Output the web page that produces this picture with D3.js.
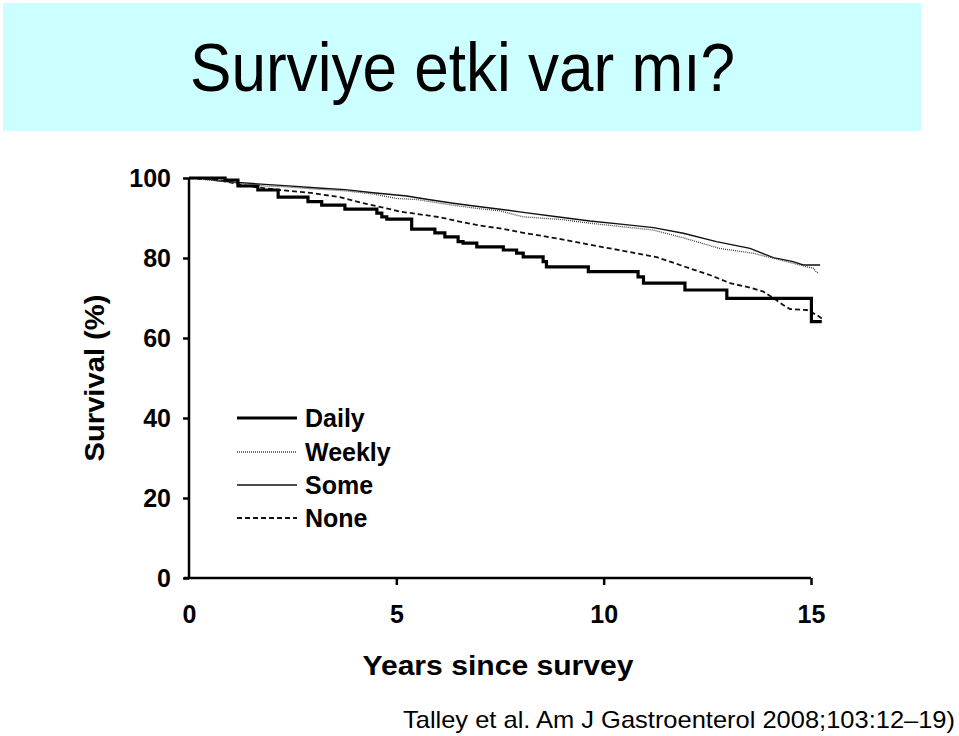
<!DOCTYPE html>
<html>
<head>
<meta charset="utf-8">
<script src="https://cdn.jsdelivr.net/npm/d3@7"></script>
<style>
  html, body { margin: 0; padding: 0; background: #fff; }
  svg { display: block; font-family: "Liberation Sans", Arial, Helvetica, sans-serif; }
</style>
</head>
<body>
<svg id="chart" width="959" height="736"></svg>
<script>
// ---- Data ----
const titleText = "Surviye etki var mı?";
const citationText = "Talley et al. Am J Gastroenterol 2008;103:12\u201319)";
const xLabel = "Years since survey";
const yLabel = "Survival (%)";
const xTicks = [0, 5, 10, 15];
const yTicks = [0, 20, 40, 60, 80, 100];
const seriesNames = ["Daily", "Weekly", "Some", "None"];

const dailyYears = [0, 0.87, 1.18, 1.66, 2.15, 2.87, 3.2, 3.76, 4.53, 4.65, 4.77, 5.37, 5.93, 6.17, 6.49, 6.61, 6.94, 7.58, 7.9, 8.06, 8.54, 8.62, 9.63, 10.83, 10.96, 11.96, 12.97, 15.01, 15.26];
const dailySurv  = [100, 99.5, 98, 97, 95.2, 94.1, 93.2, 92.2, 91.2, 90.3, 89.7, 87.2, 86.3, 85.3, 84.1, 83.7, 82.8, 82, 81.2, 80.3, 79.1, 77.8, 76.6, 75.3, 73.7, 72, 69.9, 64.1, 64.1];

const weeklyYears = [0, 0.7, 1.18, 1.83, 2.31, 3.11, 3.76, 4.44, 5.0, 5.5, 6.37, 7.02, 7.5, 8.06, 8.6, 9.0, 9.67, 10.47, 11.2, 12.0, 12.79, 13.6, 14.49, 15.06, 15.12, 15.18];
const weeklySurv  = [100, 99.3, 98.7, 98, 97.8, 97.2, 96.8, 96, 94.9, 94.6, 93.2, 92.3, 91.8, 90.3, 89.9, 89.6, 88.7, 87.8, 87.0, 84.8, 82.4, 81.2, 78.9, 77.4, 76.6, 76.2];

const someYears = [0, 0.3, 0.7, 1.18, 1.83, 2.31, 3.11, 3.76, 4.44, 5.25, 5.73, 6.37, 7.02, 7.5, 8.06, 8.87, 9.67, 10.47, 11.2, 11.92, 12.72, 13.53, 14.09, 14.57, 14.81, 15.22];
const someSurv  = [100, 100, 99.3, 98.9, 98.4, 98.1, 97.5, 97.1, 96.3, 95.5, 94.7, 93.7, 92.8, 92.2, 91.4, 90.3, 89.25, 88.4, 87.6, 86.2, 84.1, 82.4, 80.1, 79.1, 78.25, 78.25];

const noneYears = [0, 0.7, 1.1, 1.3, 1.83, 2.3, 3.0, 3.64, 4.12, 4.6, 5.09, 5.57, 6.05, 6.53, 7.02, 7.5, 8.06, 8.87, 9.67, 10.47, 11.28, 11.6, 12.08, 12.56, 13.05, 13.53, 13.85, 14.09, 14.33, 14.49, 14.9, 15.14, 15.26];
const noneSurv  = [100, 99.5, 98.7, 98.2, 97.4, 96.9, 96.2, 95.2, 93.9, 92.8, 91.6, 90.9, 90.2, 89.1, 88.1, 87.4, 86.3, 84.9, 83.3, 81.8, 80.2, 79.1, 77.4, 75.75, 73.7, 72.6, 71.6, 70, 68.25, 67.25, 67, 65.75, 64.9];

// ---- Build series ----
const zip = (xs, ys) => xs.map((x, i) => [x, ys[i]]);
const series = [
  { name: seriesNames[0], pts: zip(dailyYears, dailySurv),  width: 3.2, dash: null,  color: "#000", step: true },
  { name: seriesNames[1], pts: zip(weeklyYears, weeklySurv), width: 1.3, dash: "1,1", color: "#444", step: false },
  { name: seriesNames[2], pts: zip(someYears, someSurv),     width: 1.4, dash: null,  color: "#111", step: false },
  { name: seriesNames[3], pts: zip(noneYears, noneSurv),     width: 1.8, dash: "5,3", color: "#111", step: false }
];

const svg = d3.select("#chart");

// Title box
svg.append("rect").attr("x", 3).attr("y", 3).attr("width", 918).attr("height", 128).attr("fill", "#ccffff");
svg.append("text").attr("x", 190).attr("y", 91)
  .attr("font-size", 68).attr("textLength", 545).attr("lengthAdjust", "spacingAndGlyphs")
  .attr("fill", "#000").text(titleText);

// Scales
const x = d3.scaleLinear().domain([0, 15]).range([189, 811]);
const y = d3.scaleLinear().domain([0, 100]).range([578, 178]);

// Axes
const yAxis = svg.append("g").attr("transform", `translate(${x(0)},0)`)
  .call(d3.axisLeft(y).tickValues(yTicks).tickSize(6).tickPadding(12).tickFormat(d3.format("d")));
const xAxis = svg.append("g").attr("transform", `translate(0,${y(0)})`)
  .call(d3.axisBottom(x).tickValues(xTicks).tickSize(7).tickPadding(20).tickFormat(d3.format("d")));

[yAxis, xAxis].forEach(g => {
  g.select(".domain").attr("stroke", "#000").attr("stroke-width", 2.5);
  g.selectAll(".tick line").attr("stroke", "#000").attr("stroke-width", 2.5);
  g.selectAll(".tick text").attr("fill", "#000").attr("font-size", 25).attr("font-weight", "bold")
    .attr("font-family", "'Liberation Sans', Arial, sans-serif");
});
xAxis.select(".domain").attr("d", `M${x(0) - 5},0H${x(15)}`);
yAxis.select(".domain").attr("d", `M0,${y(100)}V${y(0)}`);
xAxis.selectAll(".tick line").filter(d => d === 0).remove();

// Curves
const line = d3.line().x(d => x(d[0])).y(d => y(d[1]));
series.slice().reverse().forEach(s => {
  svg.append("path")
    .attr("d", line.curve(s.step ? d3.curveStepAfter : d3.curveLinear)(s.pts))
    .attr("fill", "none").attr("stroke", s.color).attr("stroke-width", s.width)
    .attr("stroke-dasharray", s.dash).attr("stroke-linejoin", "miter");
});

// Legend
const legendY = [418, 452, 485, 518];
const legend = svg.append("g");
series.forEach((s, i) => {
  legend.append("line").attr("x1", 237).attr("x2", 297).attr("y1", legendY[i]).attr("y2", legendY[i])
    .attr("stroke", s.color).attr("stroke-width", s.width).attr("stroke-dasharray", s.dash);
  legend.append("text").attr("x", 305).attr("y", legendY[i] + 9)
    .attr("font-size", 25).attr("font-weight", "bold").attr("fill", "#000").text(s.name);
});

// Axis titles
svg.append("text").attr("x", 498).attr("y", 675).attr("text-anchor", "middle")
  .attr("font-size", 28).attr("font-weight", "bold").attr("textLength", 271).attr("lengthAdjust", "spacingAndGlyphs")
  .text(xLabel);
svg.append("text").attr("transform", "translate(104,378) rotate(-90)").attr("text-anchor", "middle")
  .attr("font-size", 28).attr("font-weight", "bold").attr("textLength", 167).attr("lengthAdjust", "spacingAndGlyphs")
  .text(yLabel);

// Citation
svg.append("text").attr("x", 403).attr("y", 728)
  .attr("font-size", 24).attr("textLength", 552).attr("lengthAdjust", "spacingAndGlyphs")
  .text(citationText);
</script>
</body>
</html>
